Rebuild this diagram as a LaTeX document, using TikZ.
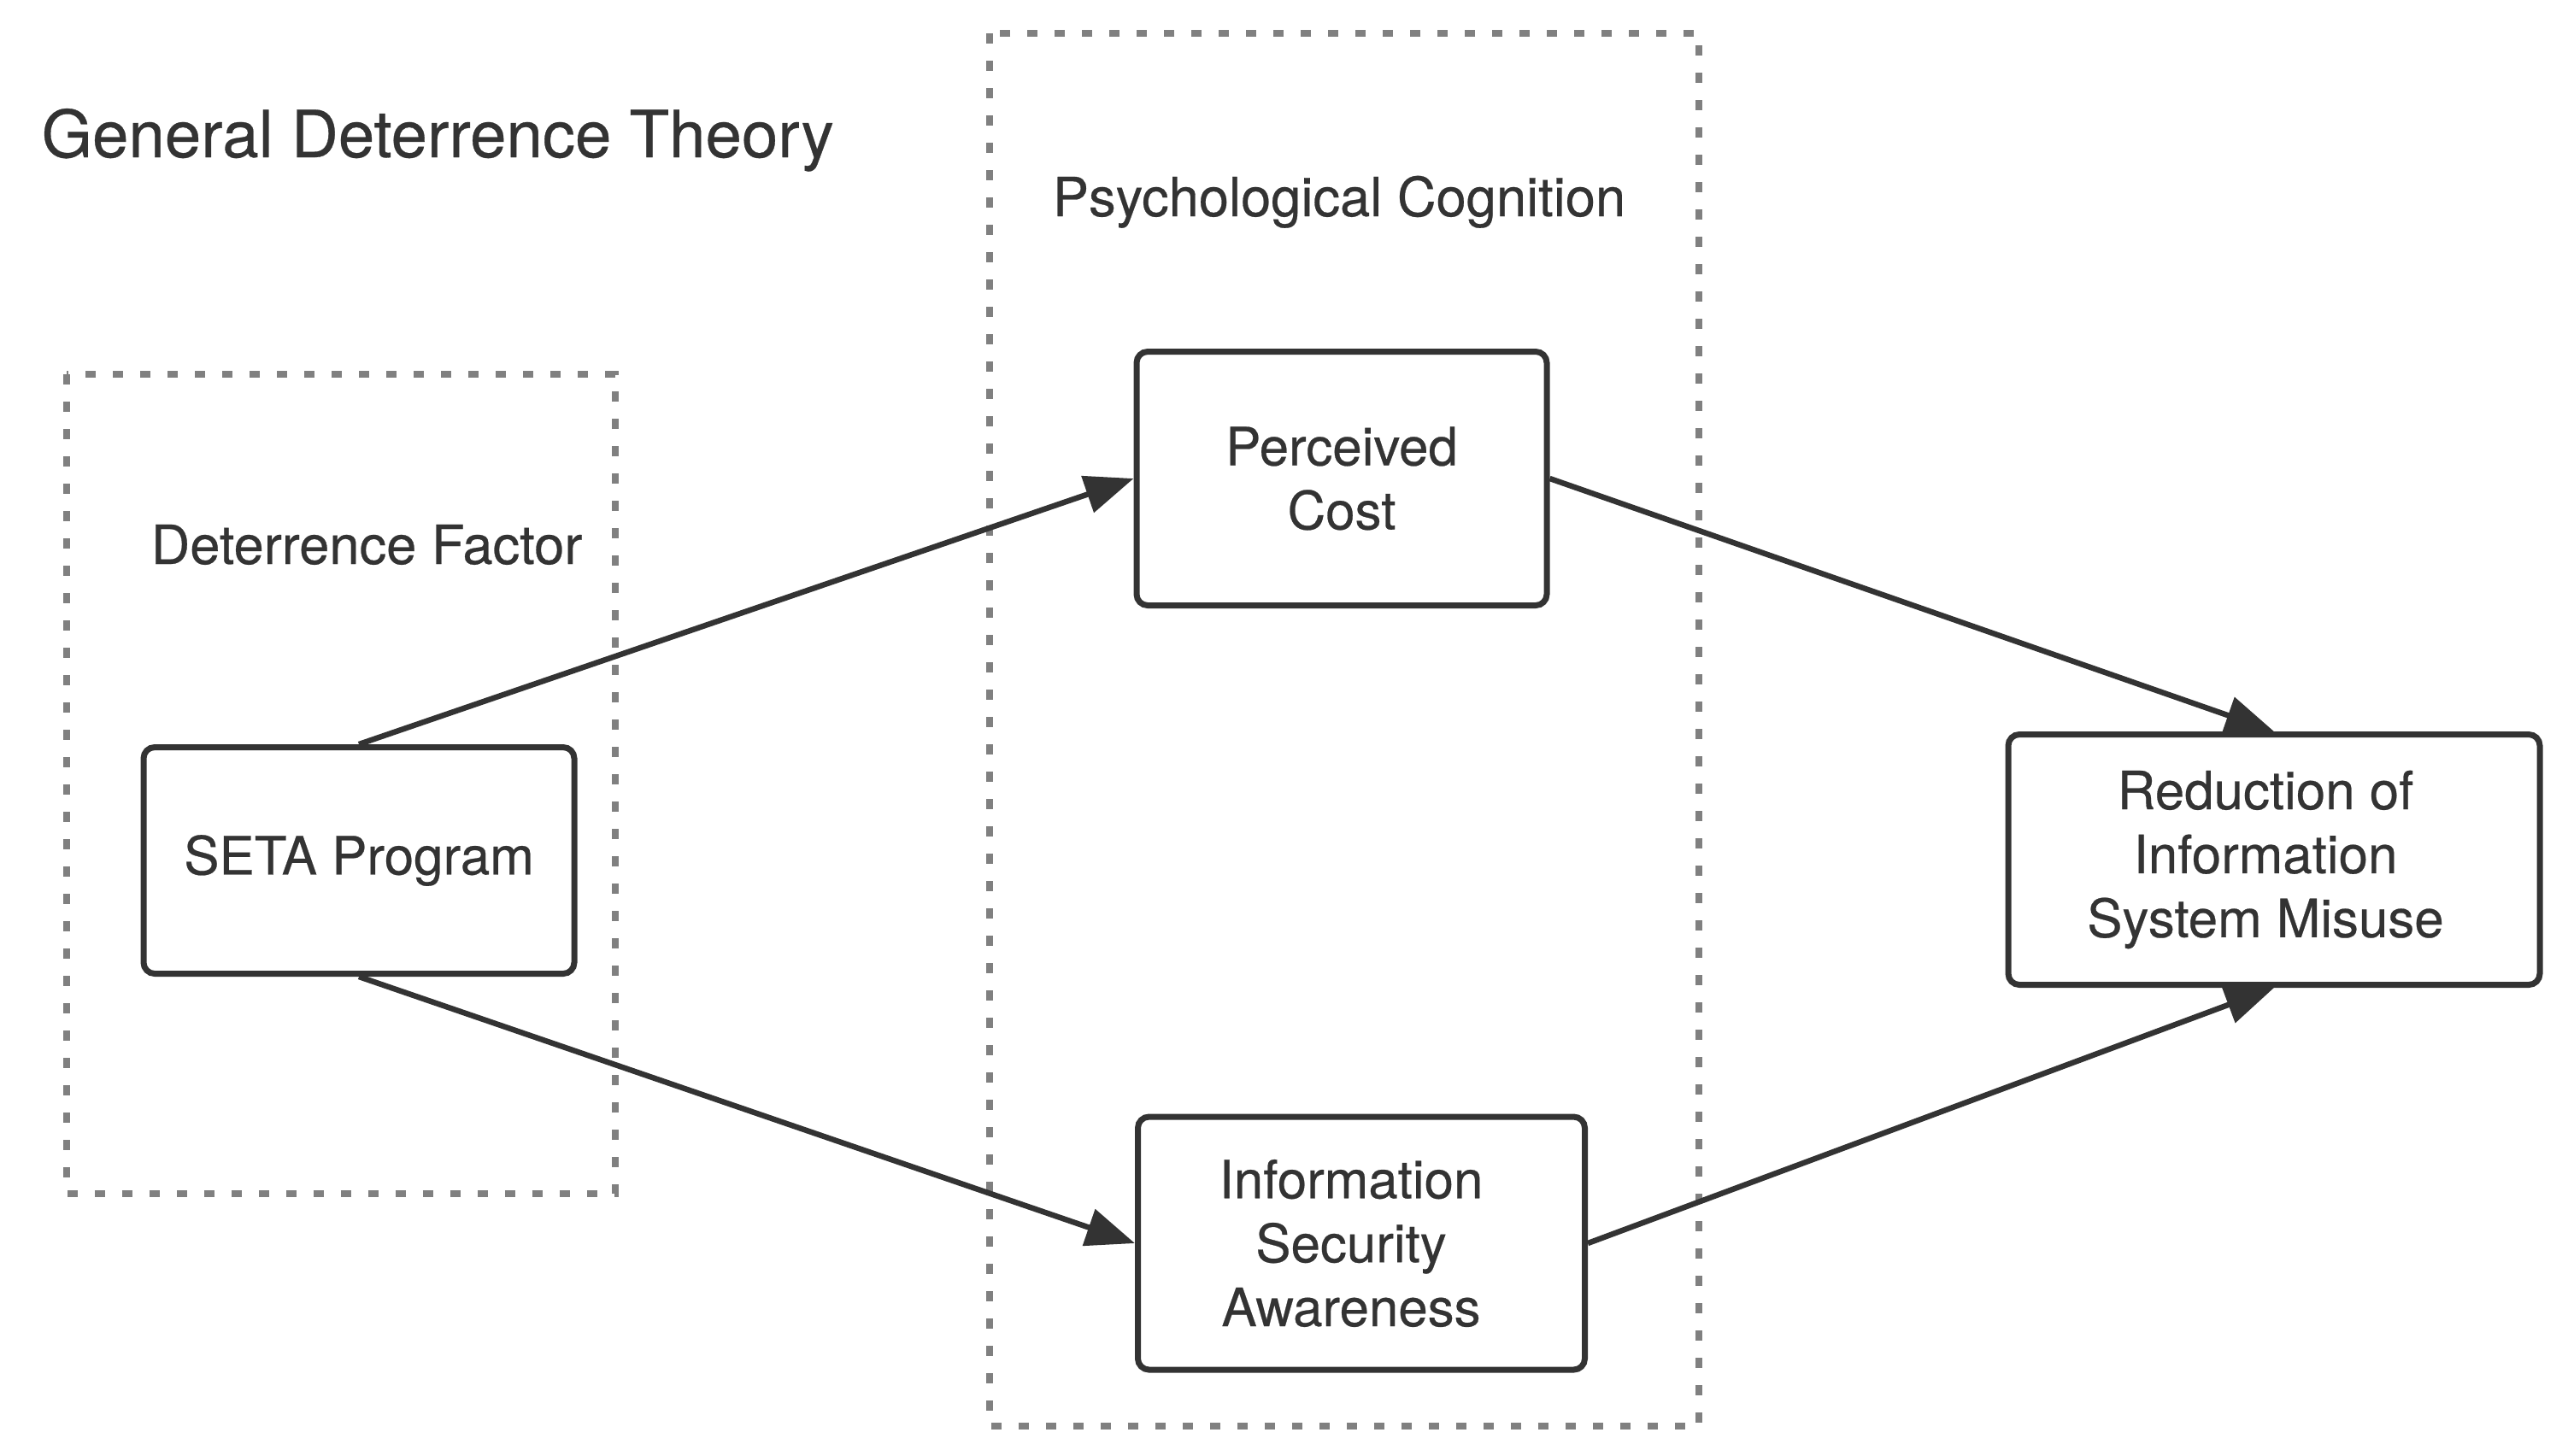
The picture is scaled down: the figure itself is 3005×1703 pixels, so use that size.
\documentclass[tikz,border=0pt]{standalone}
\usepackage{fontspec}
\setmainfont{TeX Gyre Heros}[FakeBold=0.4]
\usetikzlibrary{arrows.meta}
\definecolor{ink}{HTML}{333333}
\definecolor{dotgray}{HTML}{808080}
\tikzset{
  box/.style={draw=ink, line width=0.7mm, rounded corners=1.3mm, fill=white,
    align=center, inner sep=0pt, text=ink, font=\fontsize{17.6}{21.3}\selectfont},
  grp/.style={draw=dotgray, line width=0.8mm, dash pattern=on 1.2mm off 2mm},
  lbl/.style={text=ink, inner sep=0pt, font=\fontsize{18}{21}\selectfont},
  conn/.style={draw=ink, line width=0.65mm, -{Triangle[length=5.7mm, width=4.4mm]}}
}
\begin{document}
\begin{tikzpicture}[x=0.1mm, y=-0.1mm]
\useasboundingbox (0,0) rectangle (3005,1703);
\fill[white] (0,0) rectangle (3005,1703);
% group frames
\draw[grp] (78,438) rectangle (720,1397);
\draw[grp] (1158,39) rectangle (1988,1669);
% labels
\node[lbl, anchor=base west, font=\fontsize{21.7}{25}\selectfont] (title) at (48,184) {General Deterrence Theory};
\node[lbl, anchor=base] (pclabel) at (1567,253) {Psychological Cognition};
\node[lbl, anchor=base] (dflabel) at (429,660) {Deterrence Factor};
% boxes
\node[box, minimum width=50.4mm, minimum height=26.5mm] (seta) at (420,1007) {SETA Program};
\node[box, minimum width=48mm, minimum height=29.7mm] (pc) at (1570,560) {Perceived\\Cost};
\node[box, minimum width=52.3mm, minimum height=29.6mm] (isa) at (1593,1455) {\hspace*{-2.4mm}Information\\\hspace*{-2.4mm}Security\\\hspace*{-2.4mm}Awareness};
\node[box, minimum width=62.2mm, minimum height=29.3mm] (red) at (2661,1006) {\hspace*{-2mm}Reduction of\\\hspace*{-2mm}Information\\\hspace*{-2mm}System Misuse};
% connectors
\draw[conn] (seta.north) -- (pc.west);
\draw[conn] (seta.south) -- (isa.west);
\draw[conn] (pc.east) -- (red.north);
\draw[conn] (isa.east) -- (red.south);
\end{tikzpicture}
\end{document}
